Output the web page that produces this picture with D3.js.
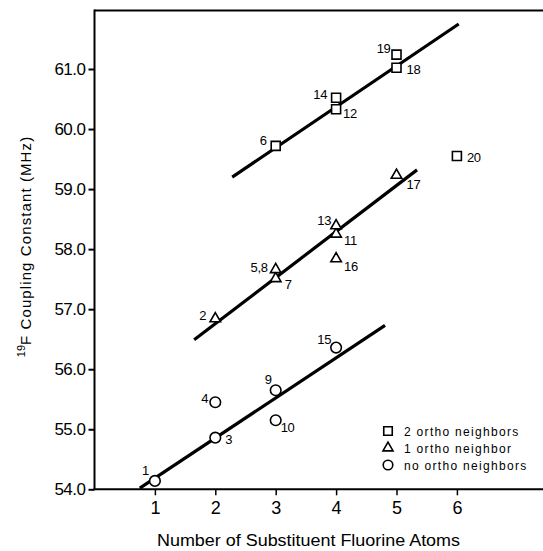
<!DOCTYPE html>
<html><head><meta charset="utf-8">
<script src="https://cdn.jsdelivr.net/npm/d3@7"></script>
<style>
body{margin:0;background:#fff}
svg{display:block}
text{font-family:"Liberation Sans",Arial,sans-serif;fill:#000}
</style>
</head><body>
<svg id="c" width="543" height="551"></svg>
<script>
// ---- data ----
const xTicks = [1, 2, 3, 4, 5, 6];
const yTicks = [54, 55, 56, 57, 58, 59, 60, 61];

// 2 ortho neighbors (squares)
const sqX = [3, 4, 4, 5, 5, 6];
const sqY = [59.72, 60.33, 60.52, 61.02, 61.24, 59.55];
const sqLabels = ["6", "12", "14", "18", "19", "20"];

// 1 ortho neighbor (triangles)
const triX = [2, 3, 3, 4, 4, 4, 5];
const triY = [56.84, 57.51, 57.66, 58.25, 58.39, 57.84, 59.23];
const triLabels = ["2", "7", "5,8", "11", "13", "16", "17"];

// no ortho neighbors (circles)
const cirX = [1, 2, 2, 3, 3, 4];
const cirY = [54.14, 54.86, 55.45, 55.15, 55.65, 56.36];
const cirLabels = ["1", "3", "4", "10", "9", "15"];

// fitted lines (endpoints)
const sqFitX = [2.28, 6.03], sqFitY = [59.20, 61.75];
const triFitX = [1.65, 5.34], triFitY = [56.49, 59.32];
const cirFitX = [0.75, 4.81], cirFitY = [54.02, 56.73];

const legendLabels = ["2 ortho neighbors", "1 ortho neighbor", "no ortho neighbors"];

// ---- layout (label placement relative to its marker) ----
const sqLabelPos = [[-9,-1,"end"],[7,9,"start"],[-9,1.5,"end"],[10,6,"start"],[-6,-2,"end"],[10,6,"start"]];
const triLabelPos = [[-9,1,"end"],[9,10,"start"],[-8,2,"end"],[8,11,"start"],[-5,-1,"end"],[8,12,"start"],[10,14,"start"]];
const cirLabelPos = [[-6,-6,"end"],[10,6,"start"],[-7,1,"end"],[5,12,"start"],[-4,-6,"end"],[-5,-4,"end"]];

const svg = d3.select("#c");
const x = d3.scaleLinear().domain([0, 1]).range([94.5, 154.9]);
const y = d3.scaleLinear().domain([54, 61]).range([489.3, 69]);
const pLeft = x(0), pBottom = y(54), pTop = 10.5, pRight = 543;

// frame
svg.append("line").attr("x1", pLeft).attr("x2", pRight).attr("y1", pTop).attr("y2", pTop)
  .attr("stroke", "#000").attr("stroke-width", 2);
svg.append("line").attr("x1", pLeft).attr("x2", pLeft).attr("y1", pTop - 1).attr("y2", pBottom)
  .attr("stroke", "#000").attr("stroke-width", 2);
svg.append("line").attr("x1", pLeft - 1).attr("x2", pRight).attr("y1", pBottom).attr("y2", pBottom)
  .attr("stroke", "#000").attr("stroke-width", 2);

// axes
const yAxis = svg.append("g").attr("transform", `translate(${pLeft},0)`)
  .call(d3.axisLeft(y).tickValues(yTicks).tickFormat(d3.format(".1f")).tickSize(6).tickPadding(3));
yAxis.select(".domain").remove();
yAxis.selectAll("line").attr("stroke-width", 2);
yAxis.selectAll("text").attr("font-size", 17).style("font-family", '"Liberation Sans",Arial,sans-serif').attr("letter-spacing", -0.5);

const xAxis = svg.append("g").attr("transform", `translate(0,${pBottom})`)
  .call(d3.axisBottom(x).tickValues(xTicks).tickFormat(d3.format("d")).tickSize(6).tickPadding(6));
xAxis.select(".domain").remove();
xAxis.selectAll("line").attr("stroke-width", 1.5);
xAxis.selectAll("text").attr("font-size", 18).style("font-family", '"Liberation Sans",Arial,sans-serif');

// axis titles
svg.append("text").attr("x", 308.5).attr("y", 546).attr("text-anchor", "middle")
  .attr("font-size", 16).attr("textLength", 303).attr("lengthAdjust", "spacingAndGlyphs")
  .text("Number of Substituent Fluorine Atoms");

const yt = svg.append("text").attr("transform", "translate(31,246.5) rotate(-90)")
  .attr("text-anchor", "middle").attr("font-size", 15);
yt.append("tspan").attr("font-size", 11).attr("dy", -6).text("19");
yt.append("tspan").attr("dy", 6).text("F Coupling Constant (MHz)").attr("letter-spacing", 1.1);

// fit lines
const line = d3.line().x(d => x(d[0])).y(d => y(d[1]));
[[sqFitX, sqFitY], [triFitX, triFitY], [cirFitX, cirFitY]].forEach(([fx, fy]) => {
  svg.append("path").attr("d", line(fx.map((v, i) => [v, fy[i]])))
    .attr("fill", "none").attr("stroke", "#000").attr("stroke-width", 3.2);
});

// markers
const symType = { square: d3.symbolSquare, triangle: d3.symbolTriangle, circle: d3.symbolCircle };
const symSize = { square: 81, triangle: 48, circle: 88 };
function drawSeries(xs, ys, labels, pos, type) {
  const g = svg.append("g");
  xs.forEach((xv, i) => {
    const cx = x(xv), cy = y(ys[i]);
    g.append("path").attr("d", d3.symbol().type(symType[type]).size(symSize[type])())
      .attr("transform", `translate(${cx},${cy})`)
      .attr("fill", "#fff").attr("stroke", "#000").attr("stroke-width", 1.6);
    const p = pos[i];
    g.append("text").attr("x", cx + p[0]).attr("y", cy + p[1]).attr("text-anchor", p[2])
      .attr("font-size", 13).attr("letter-spacing", -0.3).text(labels[i]);
  });
}
drawSeries(sqX, sqY, sqLabels, sqLabelPos, "square");
drawSeries(triX, triY, triLabels, triLabelPos, "triangle");
drawSeries(cirX, cirY, cirLabels, cirLabelPos, "circle");

// legend
const legTypes = ["square", "triangle", "circle"];
const legSize = { square: 72, triangle: 44, circle: 72 };
const legRowY = [431, 448, 465];
legendLabels.forEach((t, i) => {
  svg.append("path").attr("d", d3.symbol().type(symType[legTypes[i]]).size(legSize[legTypes[i]])())
    .attr("transform", `translate(388,${legRowY[i]})`)
    .attr("fill", "#fff").attr("stroke", "#000").attr("stroke-width", 1.6);
  svg.append("text").attr("x", 404).attr("y", legRowY[i] + 4.5).attr("font-size", 12)
    .attr("letter-spacing", 1.3).text(t);
});
</script>
</body></html>
